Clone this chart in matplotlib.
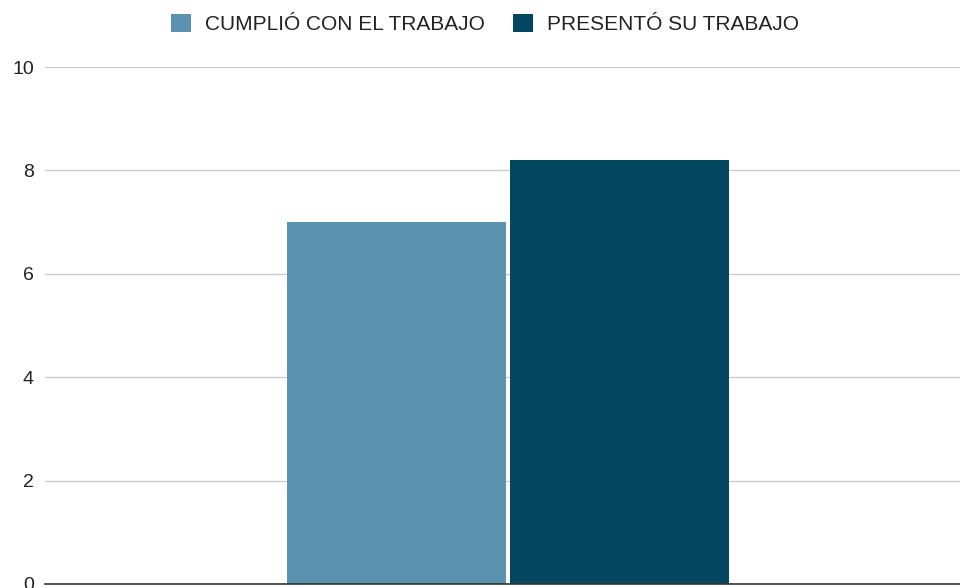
import matplotlib
matplotlib.use('Agg')
import matplotlib.pyplot as plt
from matplotlib.patches import Patch

plt.rcParams['font.family'] = ['Liberation Sans', 'DejaVu Sans']

# datos
series = ['CUMPLIÓ CON EL TRABAJO', 'PRESENTÓ SU TRABAJO']
valores = [7, 8.2]
colores = ['#5a92b0', '#02475f']
yticks = [0, 2, 4, 6, 8, 10]

fig = plt.figure(figsize=(9.6, 5.88), dpi=100)
ax = fig.add_axes([45 / 960, 4 / 588, 926 / 960, 517 / 588])

ancho = 219 / 926
desp = [-111.5 / 926, 111.5 / 926]
for i in range(len(series)):
    ax.bar(desp[i], valores[i], width=ancho, color=colores[i], zorder=3)

ax.set_xlim(-0.5, 0.5)
ax.set_ylim(0, 10)
ax.set_yticks(yticks)
ax.set_yticklabels([str(t) for t in yticks], fontsize=14, color='#222222')
ax.set_xticks([])
ax.tick_params(axis='y', length=0, pad=8)
ax.grid(axis='y', color='#cccccc', linewidth=1, zorder=0)
for lado in ['top', 'right', 'left']:
    ax.spines[lado].set_visible(False)
ax.spines['bottom'].set_color('#333333')
ax.spines['bottom'].set_linewidth(1.2)
ax.spines['bottom'].set_zorder(4)

handles = [Patch(facecolor=colores[i], label=series[i]) for i in range(len(series))]
fig.legend(handles=handles, loc='center', bbox_to_anchor=(485 / 960, 1 - 24 / 588),
           ncol=2, frameon=False, fontsize=15, handlelength=0.96, handleheight=0.96,
           handletextpad=0.67, columnspacing=1.35, labelcolor='#222222',
           borderpad=0, borderaxespad=0)

fig.savefig('out.png', dpi=100)
